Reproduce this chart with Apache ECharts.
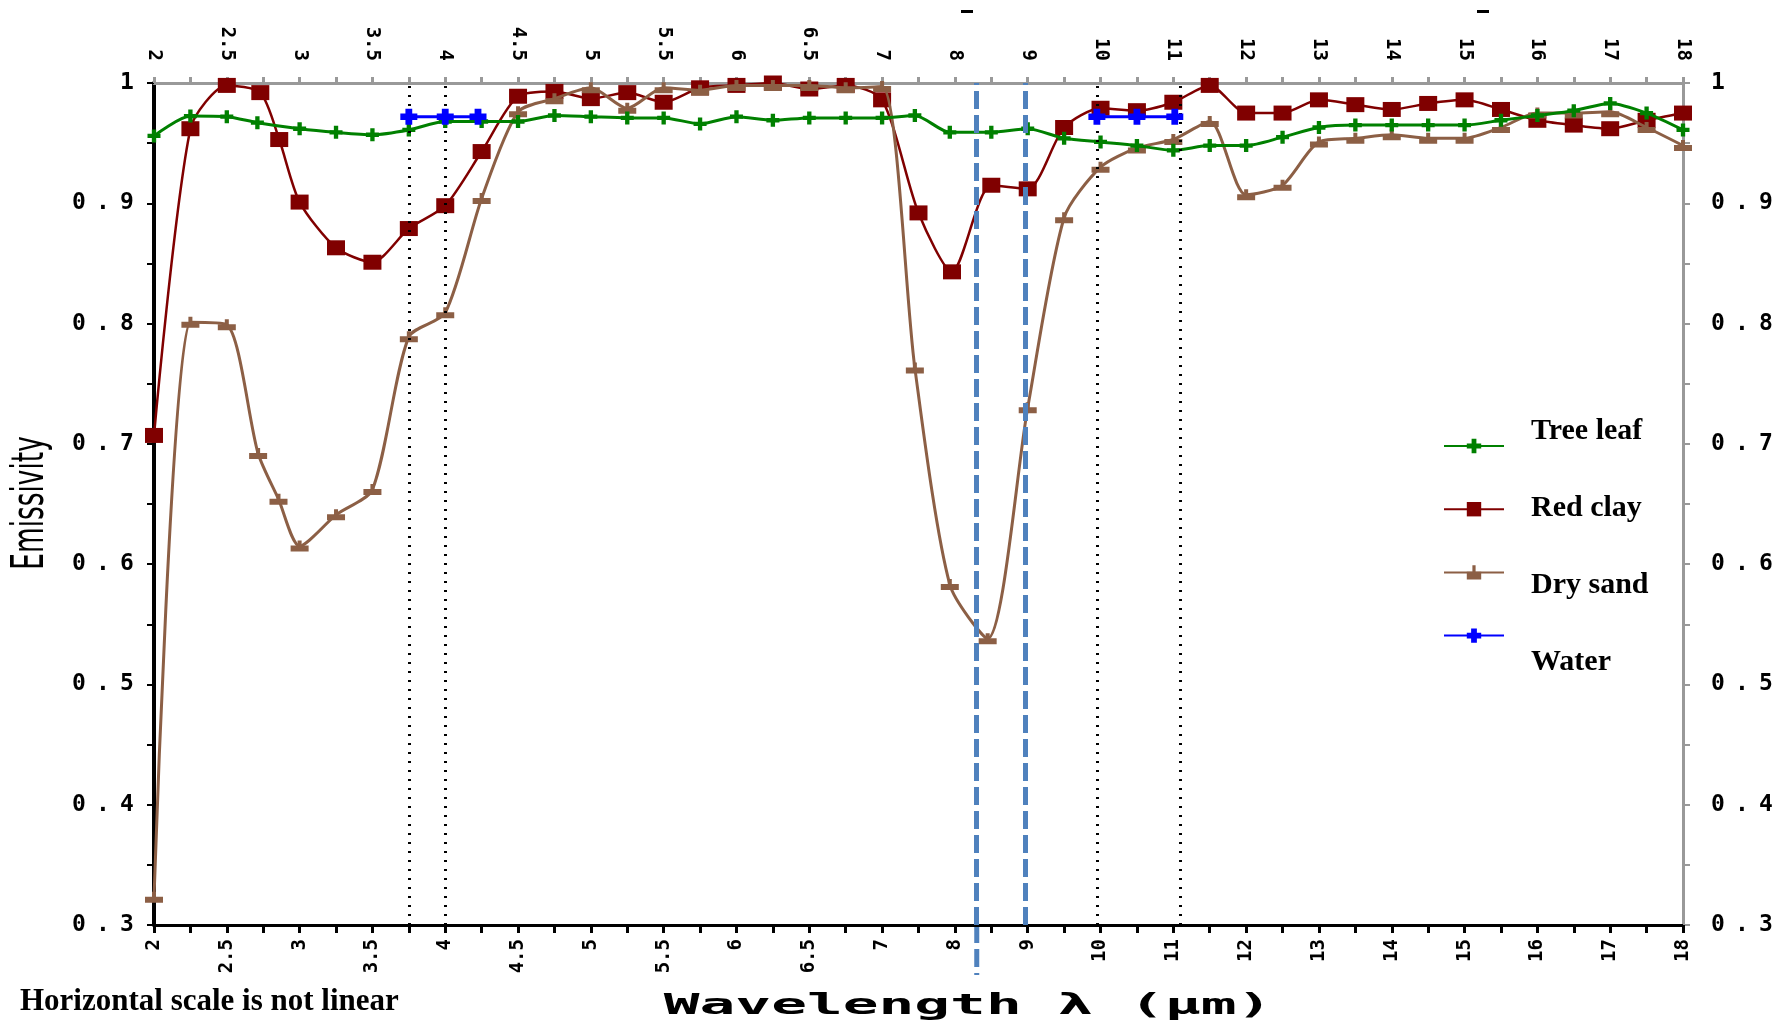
<!DOCTYPE html>
<html>
<head>
<meta charset="utf-8">
<script src="https://cdn.jsdelivr.net/npm/echarts@6/dist/echarts.min.js"></script>
<style>html,body{margin:0;padding:0;background:#fff}#c{width:1785px;height:1022px}</style>
</head>
<body>
<div id="c"></div>
<script>
// Tick labels (wavelength, µm) placed at equally spaced positions 0..21 (non-linear scale)
const xTickLabels = ['2','2.5','3','3.5','4','4.5','5','5.5','6','6.5','7','8','9','10','11','12','13','14','15','16','17','18'];

// Tree leaf
const leafX = [0,0.5,1,1.42,2,2.5,3,3.5,4,4.5,5,5.5,6,6.5,7,7.5,8,8.5,9,9.5,10,10.45,10.93,11.5,12,12.5,13,13.5,14,14.5,15,15.5,16,16.5,17,17.5,18,18.5,19,19.5,20,20.5,21];
const leafV = [0.956,0.9725,0.972,0.967,0.962,0.959,0.957,0.961,0.968,0.968,0.968,0.973,0.972,0.971,0.971,0.966,0.972,0.969,0.971,0.971,0.971,0.973,0.959,0.959,0.962,0.954,0.951,0.948,0.944,0.948,0.948,0.955,0.963,0.965,0.965,0.965,0.965,0.969,0.973,0.977,0.983,0.975,0.961];

// Red clay
const clayX = [0,0.5,1,1.46,1.72,2,2.5,3,3.5,4,4.5,5,5.5,6,6.5,7,7.5,8,8.5,9,9.5,10,10.5,10.96,11.5,12,12.5,13,13.5,14,14.5,15,15.5,16,16.5,17,17.5,18,18.5,19,19.5,20,20.5,21];
const clayV = [0.707,0.962,0.998,0.992,0.953,0.901,0.863,0.851,0.879,0.898,0.943,0.989,0.993,0.987,0.992,0.984,0.996,0.998,1.0,0.995,0.998,0.986,0.892,0.843,0.915,0.912,0.963,0.979,0.977,0.984,0.998,0.975,0.975,0.986,0.982,0.978,0.983,0.986,0.978,0.969,0.965,0.962,0.969,0.975];

// Dry sand
const sandX = [0,0.5,1,1.43,1.71,2,2.5,3,3.5,4,4.5,5,5.5,6,6.5,7,7.5,8,8.5,9,9.5,10,10.45,10.93,11.45,12,12.5,13,13.5,14,14.5,15,15.5,16,16.5,17,17.5,18,18.5,19,19.5,20,20.5,21];
const sandV = [0.323,0.801,0.799,0.692,0.654,0.615,0.641,0.662,0.789,0.809,0.904,0.976,0.987,0.996,0.979,0.996,0.994,0.998,0.998,0.998,0.996,0.997,0.763,0.583,0.538,0.730,0.888,0.930,0.946,0.953,0.968,0.907,0.915,0.951,0.954,0.957,0.954,0.954,0.963,0.975,0.975,0.976,0.963,0.948];

// Water (two separate groups)
const waterX = [3.5,4,4.45,9,12.95,13.5,14.02];
const waterV = [0.972,0.972,0.972,null,0.972,0.972,0.972];

// Reference lines (positions on the index scale)
const refDotted = [3.5,4,12.95,14.1];
const refDashed = [11.3,11.96];

function pairs(xs, vs){ return xs.map((x,i)=>[x, vs[i]]); }

const PLUS = 'path://M2,0H4V2H6V4H4V6H2V4H0V2H2Z';
const TEE = 'path://M7,0H11V5H18V11H0V5H7Z';
const WPLUS = 'path://M3,0H7V3H10V7H7V10H3V7H0V3H3Z';

function yFmt(v){
  const s = Math.abs(v-1) < 1e-9 ? '1' : v.toFixed(1);
  return s.split('').map(c => c === '.' ? '{d|.}' : '{n|' + c + '}').join('');
}
const yRich = {
  n:{width:30, align:'center', fontFamily:'DejaVu Sans Mono', fontWeight:'bold', fontSize:23, color:'#000'},
  d:{width:18, align:'center', fontFamily:'DejaVu Sans Mono', fontWeight:'bold', fontSize:23, color:'#000'}
};

function xAxisDef(pos){
  const isBottom = pos === 'bottom';
  const col = isBottom ? '#000' : '#999';
  return {
    type:'value', position:pos, min:0, max:21, interval:1,
    axisLine:{show:true, onZero:false, lineStyle:{color:col, width:3}},
    axisTick:{show:true, length:isBottom?8:6, lineStyle:{color:col, width:3}},
    minorTick:{show:true, splitNumber:2, length:isBottom?8:6, lineStyle:{color:col, width:3}},
    splitLine:{show:false}, minorSplitLine:{show:false},
    axisLabel:{rotate:90, margin:isBottom?14:22, formatter:v=>xTickLabels[Math.round(v)] || '',
      fontFamily:'DejaVu Sans Mono', fontWeight:'bold', fontSize:19, color:'#000'}
  };
}
function yAxisDef(pos){
  const isLeft = pos === 'left';
  const col = isLeft ? '#000' : '#999';
  return {
    type:'value', position:pos, min:0.3, max:1, interval:0.1,
    axisLine:{show:true, onZero:false, lineStyle:{color:col, width:isLeft?4:3}},
    axisTick:{show:true, length:7, lineStyle:{color:col, width:2}},
    minorTick:{show:true, splitNumber:2, length:7, lineStyle:{color:col, width:2}},
    splitLine:{show:false}, minorSplitLine:{show:false},
    axisLabel:{margin:isLeft?12:20, formatter:yFmt, rich:yRich, color:'#000'}
  };
}

const chart = echarts.init(document.getElementById('c'));
const names = ['Tree leaf','Red clay','Dry sand','Water'];
const option = {
  animation:false,
  backgroundColor:'#fff',
  grid:{left:154, right:102, top:83, bottom:97},
  xAxis:[xAxisDef('bottom'), xAxisDef('top')],
  yAxis:[yAxisDef('left'), yAxisDef('right')],
  legend:[
    {data:names, orient:'vertical', left:1438, top:432, itemWidth:60, itemHeight:18, itemGap:47,
     selectedMode:false, formatter:()=>'', textStyle:{fontSize:8}},
    {data:names, orient:'vertical', left:1460, top:411, itemWidth:60, itemHeight:14, itemGap:47,
     selectedMode:false, itemStyle:{opacity:0}, lineStyle:{opacity:0},
     textStyle:{fontFamily:'Liberation Serif', fontWeight:'bold', fontSize:30, lineHeight:30, color:'#000'}}
  ],
  series:[
    {name:'Red clay', type:'line', data:pairs(clayX, clayV), smooth:0.25, clip:false,
     symbol:'rect', symbolSize:[18,15], showAllSymbol:true,
     lineStyle:{color:'#800000', width:2.5}, itemStyle:{color:'#800000'}, z:2},
    {name:'Dry sand', type:'line', data:pairs(sandX, sandV), smooth:0.25, clip:false,
     symbol:TEE, symbolSize:[18,11], showAllSymbol:true,
     lineStyle:{color:'#8c5f45', width:3}, itemStyle:{color:'#8c5f45'}, z:3},
    {name:'Tree leaf', type:'line', data:pairs(leafX, leafV), smooth:0.25, clip:false,
     symbol:PLUS, symbolSize:13, showAllSymbol:true,
     lineStyle:{color:'#008000', width:3}, itemStyle:{color:'#008000'}, z:4},
    {name:'Water', type:'line', data:pairs(waterX, waterV), clip:false, connectNulls:false,
     symbol:WPLUS, symbolSize:[17,16], showAllSymbol:true,
     lineStyle:{color:'#0000ff', width:3}, itemStyle:{color:'#0000ff'}, z:6,
     markLine:{silent:true, symbol:'none', label:{show:false}, animation:false,
       data: refDotted.map(x=>({xAxis:x, lineStyle:{color:'#000', type:[2,7], width:3}}))
         .concat(refDashed.map(x=>({xAxis:x, lineStyle:{color:'#4f81bd', type:[18,6], width:5}})))}
    }
  ],
  graphic:[
    {type:'text', id:'ytitle', x:32, y:503, rotation:Math.PI/2, scaleX:0.6,
     style:{text:'Emissivity', fontFamily:'DejaVu Sans', fontSize:44, fill:'#000', align:'center', verticalAlign:'middle'}},
    {type:'text', id:'xtitle', x:968, y:1006, scaleX:2.05,
     style:{text:'Wavelength λ (µm)', fontFamily:'DejaVu Sans Mono', fontWeight:'bold', fontSize:29, fill:'#000', align:'center', verticalAlign:'middle'}},
    {type:'text', id:'note', x:20, y:1002,
     style:{text:'Horizontal scale is not linear', fontFamily:'Liberation Serif', fontWeight:'bold', fontSize:31, fill:'#000', align:'left', verticalAlign:'middle'}},
    {type:'rect', id:'m1', shape:{x:961, y:10, width:12, height:3}, style:{fill:'#000'}},
    {type:'rect', id:'m2', shape:{x:1477, y:10, width:12, height:3}, style:{fill:'#000'}}
  ]
};
chart.setOption(option);
const px = chart.convertToPixel({xAxisIndex:0}, refDashed[0]);
const py = chart.convertToPixel({yAxisIndex:0}, 0.3);
chart.setOption({graphic:[{type:'line', id:'ext', shape:{x1:px, y1:py, x2:px, y2:py+50},
  style:{stroke:'#4f81bd', lineWidth:5, lineDash:[18,6]}}]});
</script>
</body>
</html>
